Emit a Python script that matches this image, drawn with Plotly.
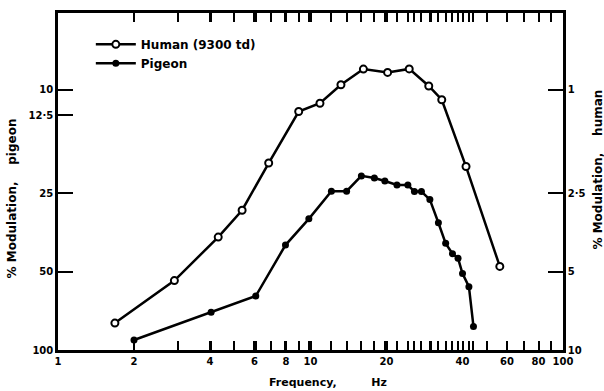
import plotly.graph_objects as go

# Human (9300 td): frequency (Hz) and % modulation (right axis)
human_freq = [1.68, 2.89, 4.31, 5.36, 6.83, 8.98, 10.9, 13.2, 16.2, 20.2, 24.6, 29.4, 33.1, 41.3, 56.2]
human_mod = [7.88, 5.41, 3.68, 2.90, 1.91, 1.21, 1.125, 0.955, 0.831, 0.856, 0.830, 0.965, 1.09, 1.97, 4.77]

# Pigeon: frequency (Hz) and % modulation (left axis)
pigeon_freq = [2.0, 4.04, 6.07, 7.96, 9.85, 12.1, 13.9, 15.9, 17.9, 19.7, 22.0, 24.3, 25.8, 27.5,
               29.7, 32.1, 34.3, 36.5, 38.4, 40.0, 42.4, 44.2]
pigeon_mod = [91.5, 71.6, 62.0, 39.5, 31.3, 24.5, 24.5, 21.4, 21.8, 22.4, 23.2, 23.2, 24.6, 24.6,
              26.4, 32.4, 38.9, 42.6, 44.4, 50.8, 57.1, 81.2]

x_label_vals = [1, 2, 4, 6, 8, 10, 20, 40, 60, 80, 100]
x_label_text = ["1", "2", "4", "6", "8", "10", "20", "40", "60", "80", "100"]
x_minor_vals = sorted(set([3, 5, 7, 9, 30, 50, 70, 90] + pigeon_freq))

left_vals = [10, 12.5, 25, 50, 100]
left_text = ["10", "12·5", "25", "50", "100"]
right_vals = [1, 2.5, 5, 10]
right_text = ["1", "2·5", "5", "10"]

FONT = "DejaVu Sans"
fig = go.Figure()

fig.add_trace(go.Scatter(
    x=human_freq, y=human_mod, name="Human (9300 td)", yaxis="y2",
    mode="lines+markers",
    line=dict(color="black", width=2.5),
    marker=dict(symbol="circle", size=7, color="white", line=dict(color="black", width=2)),
))
fig.add_trace(go.Scatter(
    x=pigeon_freq, y=pigeon_mod, name="Pigeon",
    mode="lines+markers",
    line=dict(color="black", width=2.5),
    marker=dict(symbol="circle", size=7, color="black"),
))

tickfont = dict(family=FONT, size=10, color="black", weight="bold")
titlefont = dict(family=FONT, size=12, color="black", weight="bold")

fig.update_layout(
    width=604, height=391,
    margin=dict(l=58, r=41, t=13, b=41, autoexpand=False),
    paper_bgcolor="white", plot_bgcolor="white",
    showlegend=True,
    legend=dict(x=0.065, y=0.95, xanchor="left", yanchor="top",
                bgcolor="rgba(0,0,0,0)", font=titlefont, itemwidth=40),
    xaxis=dict(
        type="log", range=[0, 2], automargin=False,
        tickmode="array", tickvals=x_label_vals, ticktext=x_label_text,
        ticks="inside", ticklen=9, tickwidth=2, tickcolor="black",
        minor=dict(tickmode="array", tickvals=x_minor_vals, ticks="inside", ticklen=5,
                   tickwidth=2, tickcolor="black"),
        showline=True, linecolor="black", linewidth=2.5, mirror="allticks",
        showgrid=False, zeroline=False,
        tickfont=tickfont,
    ),
    yaxis=dict(
        type="log", range=[2.0, 0.704], automargin=False,
        tickmode="array", tickvals=left_vals, ticktext=left_text,
        ticks="inside", ticklen=15, tickwidth=2, tickcolor="black",
        showline=True, linecolor="black", linewidth=2.5,
        showgrid=False, zeroline=False,
        tickfont=tickfont,
    ),
    yaxis2=dict(
        type="log", range=[1.0, -0.296], overlaying="y", side="right", automargin=False,
        tickmode="array", tickvals=right_vals, ticktext=right_text,
        ticks="inside", ticklen=15, tickwidth=2, tickcolor="black",
        showline=True, linecolor="black", linewidth=2.5,
        showgrid=False, zeroline=False,
        tickfont=tickfont,
    ),
)

fig.add_annotation(text="% Modulation,\u00a0\u00a0\u00a0 pigeon", textangle=-90,
                   xref="paper", yref="paper", x=-0.091, y=0.45,
                   xanchor="center", yanchor="middle", showarrow=False, font=titlefont)
fig.add_annotation(text="% Modulation,\u00a0\u00a0\u00a0 human", textangle=-90,
                   xref="paper", yref="paper", x=1.069, y=0.535,
                   xanchor="center", yanchor="middle", showarrow=False, font=titlefont)
fig.add_annotation(text="Frequency,\u00a0\u00a0\u00a0\u00a0\u00a0\u00a0\u00a0\u00a0 Hz",
                   xref="paper", yref="paper", x=0.535, y=-0.07, xanchor="center", yanchor="top",
                   showarrow=False, font=dict(family=FONT, size=11, color="black", weight="bold"))

fig.write_html("out.html")
